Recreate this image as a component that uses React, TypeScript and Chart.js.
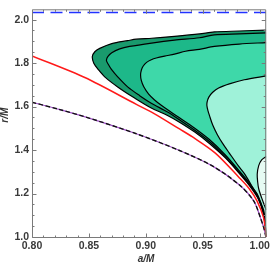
import React, { useEffect, useRef } from 'react';
import { Chart, registerables } from 'chart.js';

Chart.register(...registerables);

// axis ranges and ticks
const xRange = [0.8, 1.0058];
const yRange = [1.0, 2.0475];
const xTicks = [0.8, 0.85, 0.9, 0.95, 1.0];
const yTicks = [1.0, 1.2, 1.4, 1.6, 1.8, 2.0];
const xMinorTicks = [0.81, 0.82, 0.83, 0.84, 0.86, 0.87, 0.88, 0.89, 0.91, 0.92, 0.93, 0.94, 0.96, 0.97, 0.98, 0.99];
const yMinorTicks = [1.05, 1.1, 1.15, 1.25, 1.3, 1.35, 1.45, 1.5, 1.55, 1.65, 1.7, 1.75, 1.85, 1.9, 1.95];

// blue dashed level
const blueLevel = 2.033;

// red curve
const redCurve: [number, number][] = [
  [0.8, 1.8331], [0.8464, 1.7337], [0.8917, 1.6103], [0.9077, 1.5668], [0.9296, 1.4971],
  [0.9407, 1.4616], [0.9611, 1.3861], [0.9821, 1.273], [0.9909, 1.2219], [0.9979, 1.1642],
  [1.0034, 1.0901], [1.0055, 1.0164], [1.0058, 1.0],
];

// black dashed curve
const dashedCurve: [number, number][] = [
  [0.8, 1.62], [0.8245, 1.586], [0.8508, 1.546], [0.8911, 1.476], [0.9296, 1.398],
  [0.9588, 1.326], [0.9821, 1.24], [0.9948, 1.166], [1.0005, 1.092], [1.0043, 1.031], [1.0055, 1.0],
];

// region boundaries (traced from right edge along top, around the tip, down to the bottom corner)
const region1: [number, number][] = [
  [1.0058, 1.9521], [0.9821, 1.9476], [0.9602, 1.9432], [0.9471, 1.9343], [0.9252, 1.9232],
  [0.9051, 1.9143], [0.8917, 1.9099], [0.8841, 1.9032], [0.8701, 1.8899], [0.8595, 1.8677],
  [0.8552, 1.8522], [0.853, 1.83], [0.8543, 1.7989], [0.8581, 1.771], [0.8639, 1.7368],
  [0.8756, 1.6893], [0.8902, 1.6391], [0.9048, 1.5934], [0.9191, 1.5593], [0.9296, 1.5282],
  [0.9427, 1.4838], [0.9559, 1.4305], [0.9699, 1.364], [0.9821, 1.2929], [0.9909, 1.2375],
  [0.9988, 1.1753], [1.0032, 1.1087], [1.0052, 1.0399], [1.0058, 1.0],
];

const region2: [number, number][] = [
  [1.0058, 1.9387], [0.9821, 1.9343], [0.9602, 1.9299], [0.9471, 1.9166], [0.9252, 1.9055],
  [0.9051, 1.8921], [0.8858, 1.8766], [0.8771, 1.8655], [0.8701, 1.8478], [0.8666, 1.83],
  [0.8654, 1.8122], [0.867, 1.7945], [0.8698, 1.771], [0.8753, 1.7368], [0.8843, 1.6893],
  [0.8946, 1.6502], [0.9048, 1.6156], [0.9191, 1.5748], [0.9296, 1.5393], [0.9427, 1.4927],
  [0.9559, 1.4394], [0.9699, 1.3684], [0.9821, 1.2974], [0.9909, 1.2419], [0.9988, 1.1798],
  [1.0032, 1.1132], [1.0052, 1.0422], [1.0058, 1.0],
];

const region3: [number, number][] = [
  [1.0058, 1.8944], [0.9821, 1.8877], [0.9602, 1.8766], [0.9471, 1.8633], [0.9349, 1.8544],
  [0.9252, 1.8411], [0.9165, 1.8322], [0.9092, 1.8233], [0.9048, 1.8153], [0.9007, 1.8034],
  [0.8976, 1.7856], [0.8961, 1.7679], [0.8954, 1.7457], [0.8961, 1.719], [0.8981, 1.6924],
  [0.9025, 1.6569], [0.9077, 1.6303], [0.9136, 1.6059], [0.9208, 1.5792], [0.9296, 1.5482],
  [0.9427, 1.5016], [0.9559, 1.4483], [0.9699, 1.3773], [0.9821, 1.304], [0.9909, 1.2486],
  [0.9988, 1.1842], [1.0032, 1.1176], [1.0052, 1.0444], [1.0058, 1.0],
];

const region4: [number, number][] = [
  [1.0058, 1.7412], [0.9865, 1.7235], [0.9734, 1.7044], [0.964, 1.6857], [0.9588, 1.6658],
  [0.9554, 1.6436], [0.9539, 1.6214], [0.9537, 1.6036], [0.9546, 1.5814], [0.9559, 1.5593],
  [0.9588, 1.5149], [0.9629, 1.4705], [0.9675, 1.4305], [0.9734, 1.3861], [0.9815, 1.3262],
  [0.9865, 1.2929], [0.9909, 1.2552], [0.9944, 1.2241], [0.9979, 1.1975], [1.0014, 1.1531],
  [1.0036, 1.1221], [1.0052, 1.0533], [1.0058, 1.0],
];

const region5: [number, number][] = [
  [1.0058, 1.3706], [1.0018, 1.3551], [0.9992, 1.3284], [0.9979, 1.2885], [0.9983, 1.253],
  [0.9992, 1.2219], [1.0018, 1.1798], [1.0045, 1.142], [1.0058, 1.1243],
];

const regionColors = ['#199a6d', '#1db889', '#3ed8a9', '#9ff2d9', '#e6fbf3'];
const regions = [region1, region2, region3, region4, region5];

const pts = (arr: [number, number][]) => arr.map(([x, y]) => ({ x, y }));

const tickFont = { family: '"Liberation Sans Narrow", "Arial Narrow", Arial, sans-serif', size: 10.5, weight: 'bold' as const };

const framePlugin = {
  id: 'frameTicks',
  afterDatasetsDraw(chart: any) {
    const { ctx, chartArea, scales } = chart;
    const { left, right, top, bottom } = chartArea;
    const xs = scales.x;
    const ys = scales.y;
    ctx.save();
    ctx.strokeStyle = '#7a7a7a';
    ctx.lineWidth = 1;
    const L = left + 0.5, R = right - 0.5, T = top + 0.5, B = bottom + 0.5;
    ctx.beginPath();
    ctx.moveTo(L, T); ctx.lineTo(R, T); ctx.lineTo(R, B); ctx.lineTo(L, B); ctx.closePath();
    ctx.stroke();
    const drawX = (v: number, len: number) => {
      const p = Math.round(xs.getPixelForValue(v)) + 0.5;
      ctx.beginPath();
      ctx.moveTo(p, B); ctx.lineTo(p, B - len);
      ctx.moveTo(p, T); ctx.lineTo(p, T + len);
      ctx.stroke();
    };
    const drawY = (v: number, len: number) => {
      const p = Math.round(ys.getPixelForValue(v)) + 0.5;
      ctx.beginPath();
      ctx.moveTo(L, p); ctx.lineTo(L + len, p);
      ctx.moveTo(R, p); ctx.lineTo(R - len, p);
      ctx.stroke();
    };
    xTicks.forEach((v) => drawX(v, 4));
    xMinorTicks.forEach((v) => drawX(v, 2));
    yTicks.forEach((v) => drawY(v, 4));
    yMinorTicks.forEach((v) => drawY(v, 2));

    ctx.fillStyle = '#333';
    ctx.font = 'italic bold 10px Arial, "Liberation Sans", sans-serif';
    ctx.textAlign = 'center';
    ctx.textBaseline = 'middle';
    ctx.fillText('a/M', (left + right) / 2 - 3, 259);
    ctx.translate(5, (top + bottom) / 2 - 8);
    ctx.rotate(-Math.PI / 2);
    ctx.fillText('r/M', 0, 0);
    ctx.restore();
  },
};

export default function App() {
  const ref = useRef<HTMLCanvasElement | null>(null);

  useEffect(() => {
    if (!ref.current) return;
    const lineBase = { showLine: true, pointRadius: 0, pointHoverRadius: 0, tension: 0.3 };
    const datasets: any[] = [];
    regions.forEach((reg, i) => {
      datasets.push({
        ...lineBase,
        data: pts(reg),
        borderWidth: 0,
        borderColor: 'rgba(0,0,0,0)',
        backgroundColor: regionColors[i],
        fill: 'shape',
        order: 30 - i,
      });
    });
    regions.forEach((reg) => {
      datasets.push({
        ...lineBase,
        data: pts(reg.slice(0, reg.length)),
        borderWidth: 1.2,
        borderColor: '#000',
        fill: false,
        order: 10,
      });
    });
    datasets.push({
      ...lineBase,
      data: pts(dashedCurve),
      borderWidth: 1.2,
      borderColor: '#a050c8',
      fill: false,
      order: 6,
    });
    datasets.push({
      ...lineBase,
      data: pts(dashedCurve),
      borderWidth: 1.4,
      borderColor: '#111',
      borderDash: [4.5, 2.5],
      fill: false,
      order: 5,
    });
    datasets.push({
      ...lineBase,
      data: pts(redCurve),
      borderWidth: 1.5,
      borderColor: '#ff1a1a',
      fill: false,
      order: 4,
    });
    datasets.push({
      ...lineBase,
      tension: 0,
      data: [{ x: xRange[0], y: blueLevel }, { x: xRange[1], y: blueLevel }],
      borderWidth: 1.6,
      borderColor: '#2233ff',
      borderDash: [12, 6.5],
      fill: false,
      order: 3,
    });

    const chart = new Chart(ref.current, {
      type: 'scatter',
      data: { datasets },
      options: {
        animation: false,
        responsive: false,
        events: [],
        layout: { padding: { top: 1, right: 6, left: 0, bottom: 0 } },
        plugins: { legend: { display: false }, tooltip: { enabled: false } },
        scales: {
          x: {
            type: 'linear',
            min: xRange[0],
            max: xRange[1],
            afterBuildTicks: (s: any) => { s.ticks = xTicks.map((v) => ({ value: v })); },
            afterFit: (s: any) => { s.height = 29; },
            grid: { display: false, drawTicks: false },
            border: { display: false },
            ticks: {
              callback: (v: any) => Number(v).toFixed(2),
              font: tickFont,
              color: '#3a3a3a',
              padding: 3,
              maxRotation: 0,
              autoSkip: false,
            },
          },
          y: {
            type: 'linear',
            min: yRange[0],
            max: yRange[1],
            afterBuildTicks: (s: any) => { s.ticks = yTicks.map((v) => ({ value: v })); },
            afterFit: (s: any) => { s.width = 32; },
            grid: { display: false, drawTicks: false },
            border: { display: false },
            ticks: {
              callback: (v: any) => Number(v).toFixed(1),
              font: tickFont,
              color: '#3a3a3a',
              padding: 3,
              autoSkip: false,
            },
          },
        },
      },
      plugins: [framePlugin],
    });
    return () => chart.destroy();
  }, []);

  return (
    <div style={{ position: 'absolute', left: 0, top: 0, width: 273, height: 266, background: '#fff' }}>
      <canvas ref={ref} width={273} height={266} style={{ display: 'block' }} />
    </div>
  );
}
